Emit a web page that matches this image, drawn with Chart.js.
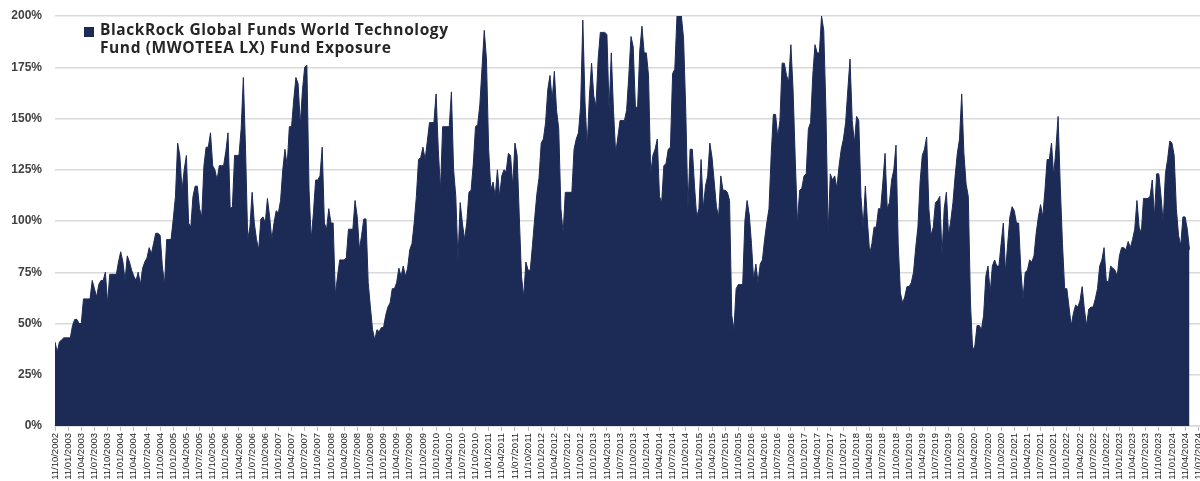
<!DOCTYPE html>
<html>
<head>
<meta charset="utf-8">
<title>MWOTEEA LX Fund Exposure</title>
<script src="https://cdn.jsdelivr.net/npm/chart.js@4.4.0/dist/chart.umd.min.js"></script>
<style>
  html, body { margin: 0; padding: 0; background: #fff; overflow: hidden; }
  #wrap { width: 1200px; height: 481px; }
</style>
</head>
<body>
<div id="wrap"><canvas id="exposureChart" width="1200" height="481"></canvas></div>
<script>
// series name, shown on two lines in the legend
const seriesName = ['BlackRock Global Funds World Technology', 'Fund (MWOTEEA LX) Fund Exposure'];

// quarterly axis labels, one every 3 months starting at the first sample
const quarterLabels = [
  '11/10/2002',
  '11/01/2003', '11/04/2003', '11/07/2003', '11/10/2003',
  '11/01/2004', '11/04/2004', '11/07/2004', '11/10/2004',
  '11/01/2005', '11/04/2005', '11/07/2005', '11/10/2005',
  '11/01/2006', '11/04/2006', '11/07/2006', '11/10/2006',
  '11/01/2007', '11/04/2007', '11/07/2007', '11/10/2007',
  '11/01/2008', '11/04/2008', '11/07/2008', '11/10/2008',
  '11/01/2009', '11/04/2009', '11/07/2009', '11/10/2009',
  '11/01/2010', '11/04/2010', '11/07/2010', '11/10/2010',
  '11/01/2011', '11/04/2011', '11/07/2011', '11/10/2011',
  '11/01/2012', '11/04/2012', '11/07/2012', '11/10/2012',
  '11/01/2013', '11/04/2013', '11/07/2013', '11/10/2013',
  '11/01/2014', '11/04/2014', '11/07/2014', '11/10/2014',
  '11/01/2015', '11/04/2015', '11/07/2015', '11/10/2015',
  '11/01/2016', '11/04/2016', '11/07/2016', '11/10/2016',
  '11/01/2017', '11/04/2017', '11/07/2017', '11/10/2017',
  '11/01/2018', '11/04/2018', '11/07/2018', '11/10/2018',
  '11/01/2019', '11/04/2019', '11/07/2019', '11/10/2019',
  '11/01/2020', '11/04/2020', '11/07/2020', '11/10/2020',
  '11/01/2021', '11/04/2021', '11/07/2021', '11/10/2021',
  '11/01/2022', '11/04/2022', '11/07/2022', '11/10/2022',
  '11/01/2023', '11/04/2023', '11/07/2023', '11/10/2023',
  '11/01/2024', '11/04/2024', '11/07/2024'
];

// fund exposure in %, two readings a month from 11/10/2002
const exposure = [
  41,36,41,42,43,43,43,43,49,52, 52,50,50,62,62,62,62,71,67,63,
  69,71,71,75,60,74,74,74,74,80, 85,80,71,83,80,76,73,71,75,69,
  77,80,82,87,84,89,94,94,93,78, 69,91,91,91,101,112,138,132,115,125,
  132,99,97,112,117,117,106,102,127,136, 136,143,127,125,120,127,127,127,134,143,
  106,107,132,132,132,145,170,135,91,97, 114,99,91,86,101,102,99,111,102,91,
  99,105,104,
  110,125,135,127,146,146,159,170,167,147, 164,175,176,115,91,104,120,120,122,136,
  99,96,106,99,99,64,73,81,81,81, 82,96,96,96,110,102,86,93,101,101,
  70,58,47,42,47,46,48,48,54,58, 60,67,67,70,77,73,78,73,77,86,
  89,99,112,130,131,136,130,139,148,148, 148,162,135,115,146,146,146,146,163,125,
  112,81,109,99,91,99,114,115,128,146, 147,157,175,193,179,135,115,119,112,125,
  112,122,125,124,
  133,132,117,138,132,102,73,63,80,76, 76,88,101,113,121,138,140,148,164,171,
  159,173,154,145,106,94,114,114,114,114, 135,140,143,156,198,158,136,161,177,161,
  156,179,192,192,192,191,154,182,154,133, 141,149,149,149,154,171,190,185,156,155,
  183,195,182,182,171,123,132,135,140,112, 109,127,128,135,136,172,174,200,200,200,
  189,154,106,135,135,117,102,106,130,106, 117,122,138,131,119,107,102,122,115,115,
  114,110,54,
  47,67,69,69,69,100,110,103,89,71, 79,70,79,81,91,99,106,132,152,152,
  141,149,177,177,171,168,186,164,130,99, 115,116,122,123,145,148,171,186,182,182,
  200,193,154,94,123,120,122,116,127,135, 140,148,164,179,149,138,151,149,112,97,
  117,99,84,89,97,97,106,106,119,133, 106,109,120,125,137,89,65,60,63,68,
  68,70,75,87,97,119,132,135,141,106, 93,97,109,110,112,83,106,114,93,100,
  109,122,133,
  140,162,133,118,112,60,37,39,49,49, 47,54,73,78,65,78,81,78,78,89,
  99,75,89,102,107,105,99,99,76,62, 75,76,81,80,83,94,102,108,102,115,
  130,130,138,122,135,151,117,89,67,67, 58,49,55,59,58,61,68,57,49,57,
  58,58,62,67,78,81,87,71,70,78, 77,76,73,83,87,87,86,90,87,91,
  96,110,97,94,111,111,111,112,120,102, 123,123,112,99,123,130,139,138,132,106,
  93,88,102,102,96,86
];

const SAMPLES_PER_MONTH = 2;
const MONTHS_PER_TICK = 3;
const NAVY = '#1c2a56';

document.addEventListener('DOMContentLoaded', () => {
  drawExposure();
});

// legend sits inside the plot, top left, text wraps over two lines
const legendBox = {
  id: 'legendBox',
  afterDraw(chart) {
    const ctx = chart.ctx;
    ctx.save();
    ctx.fillStyle = NAVY;
    ctx.fillRect(84, 27, 10, 10);
    ctx.fillStyle = '#262626';
    ctx.font = 'bold 15.5px "Open Sans", "Liberation Sans", sans-serif';
    ctx.textBaseline = 'alphabetic';
    // the original font is wider, spread the letters so line one spans ~348px
    const w = ctx.measureText(seriesName[0]).width;
    const spacing = Math.max(0, (348 - w) / (seriesName[0].length - 1));
    if ('letterSpacing' in ctx) ctx.letterSpacing = spacing.toFixed(2) + 'px';
    ctx.fillText(seriesName[0], 100, 35);
    ctx.fillText(seriesName[1], 100, 53);
    ctx.restore();
  }
};

function drawExposure() {
  const ctx = document.getElementById('exposureChart').getContext('2d');
  const points = exposure.map((v, i) => ({ x: i / SAMPLES_PER_MONTH, y: v }));

  new Chart(ctx, {
    type: 'line',
    data: {
      datasets: [{
        label: seriesName.join(' '),
        data: points,
        fill: 'origin',
        backgroundColor: NAVY,
        borderColor: NAVY,
        borderWidth: 1,
        pointRadius: 0,
        tension: 0
      }]
    },
    options: {
      responsive: false,
      animation: false,
      layout: { padding: { top: 16, right: 0, bottom: 0, left: 0 } },
      plugins: {
        legend: { display: false },
        tooltip: { enabled: false }
      },
      scales: {
        x: {
          type: 'linear',
          min: 0,
          max: 261.4,
          afterBuildTicks: (scale) => {
            scale.ticks = quarterLabels.map((_, i) => ({ value: i * MONTHS_PER_TICK }));
          },
          afterFit: (scale) => {
            scale.height = 55;
            scale.paddingLeft = 0;
            scale.paddingRight = 0;
          },
          ticks: {
            autoSkip: false,
            minRotation: 90,
            maxRotation: 90,
            padding: 2,
            color: '#1a1a1a',
            font: { family: "'Liberation Sans', sans-serif", size: 9.5 },
            callback: (val) => quarterLabels[Math.round(val / MONTHS_PER_TICK)]
          },
          grid: { drawOnChartArea: false, drawTicks: true, tickLength: 5, color: '#bfbfbf' },
          border: { display: true, color: '#d9d9d9', width: 1.5 }
        },
        y: {
          min: 0,
          max: 200,
          afterFit: (scale) => {
            scale.width = 55;
            scale.paddingTop = 0;
            scale.paddingBottom = 0;
          },
          ticks: {
            stepSize: 25,
            padding: 13,
            color: '#404040',
            font: { family: "'Liberation Sans', sans-serif", size: 12, weight: 'bold' },
            callback: (v) => v + '%'
          },
          grid: { color: '#d9d9d9', lineWidth: 1.5, drawTicks: false },
          border: { display: false }
        }
      }
    },
    plugins: [legendBox]
  });
}
</script>
</body>
</html>
